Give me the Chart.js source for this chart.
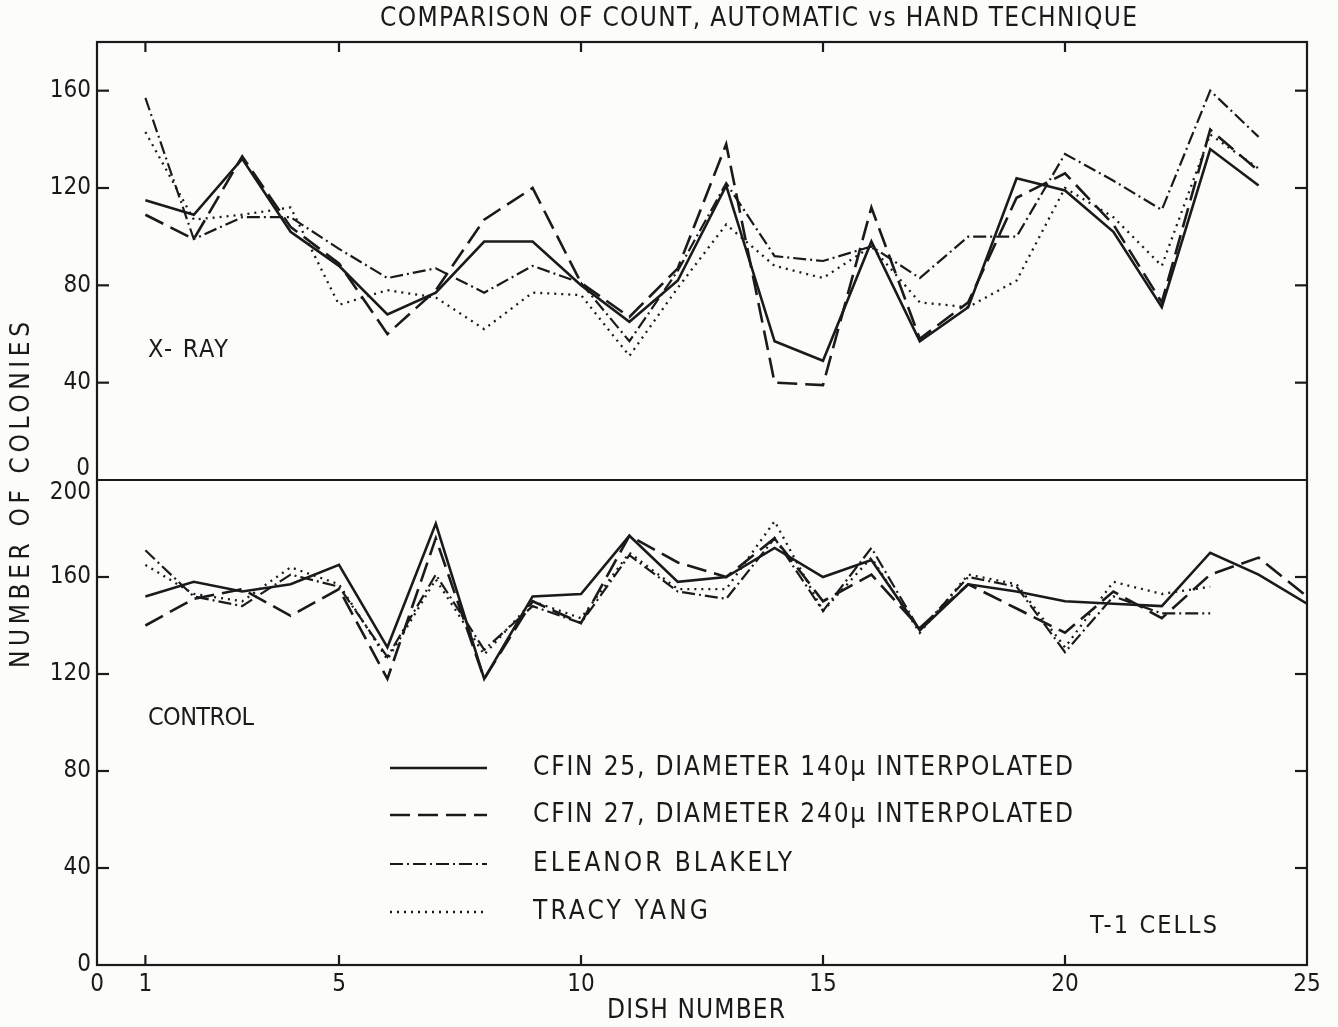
<!DOCTYPE html>
<html>
<head>
<meta charset="utf-8">
<script src="https://cdn.jsdelivr.net/npm/chart.js@4.4.1/dist/chart.umd.min.js"></script>
<style>
  html, body { margin: 0; padding: 0; background: #fcfcfb; }
  canvas { display: block; }
</style>
</head>
<body>
<canvas id="canvas" width="1338" height="1027"></canvas>
<script>
// dish numbers along the x axis
var dishes = [1, 2, 3, 4, 5, 6, 7, 8, 9, 10, 11, 12, 13, 14, 15, 16, 17, 18, 19, 20, 21, 22, 23, 24, 25];
var xTicks = [0, 1, 5, 10, 15, 20, 25];
var xrayTicks = [0, 40, 80, 120, 160];
var controlTicks = [0, 40, 80, 120, 160, 200];

var seriesNames = [
    "CFIN 25, DIAMETER 140\u03bc INTERPOLATED",
    "CFIN 27, DIAMETER 240\u03bc INTERPOLATED",
    "ELEANOR BLAKELY",
    "TRACY YANG"
];

// X-ray panel (dishes 1-24)
var cfin25Xray  = [115, 109, 132, 102, 88, 68, 77, 98, 98, 80, 65, 82, 121, 57, 49, 98, 57, 71, 124, 119, 102, 71, 136, 121];
var cfin27Xray  = [109, 99, 133, 104, 89, 60, 78, 107, 120, 81, 67, 87, 138, 40, 39, 112, 58, 73, 116, 126, 105, 73, 144, 127];
var blakelyXray = [157, 99, 108, 108, 95, 83, 87, 77, 88, 81, 57, 86, 122, 92, 90, 96, 83, 100, 100, 134, 123, 111, 160, 141];
var yangXray    = [143, 107, 109, 112, 72, 78, 75, 62, 77, 76, 51, 79, 105, 88, 83, 96, 73, 71, 82, 120, 108, 88, 142, 128];

// control panel
var cfin25Control  = [152, 158, 154, 157, 165, 131, 182, 118, 152, 153, 177, 158, 160, 172, 160, 167, 138, 157, 154, 150, 149, 148, 170, 161, 149];
var cfin27Control  = [140, 151, 155, 144, 155, 118, 176, 118, 150, 141, 177, 166, 160, 176, 150, 161, 139, 157, 147, 137, 154, 143, 161, 168, 152];
var blakelyControl = [171, 152, 148, 161, 156, 127, 161, 130, 148, 141, 169, 154, 151, 176, 146, 172, 138, 160, 156, 129, 152, 145, 145];
var yangControl    = [165, 153, 150, 164, 157, 126, 159, 128, 150, 143, 170, 155, 155, 183, 146, 168, 137, 161, 157, 131, 158, 153, 156];

var xraySeries = [cfin25Xray, cfin27Xray, blakelyXray, yangXray];
var controlSeries = [cfin25Control, cfin27Control, blakelyControl, yangControl];

var INK = "#1a1a1a";
var FONT = '"DejaVu Sans Condensed", "Liberation Sans Narrow", "DejaVu Sans", sans-serif';

var lineStyles = [
    { borderWidth: 2.6, borderDash: [] },
    { borderWidth: 2.6, borderDash: [20, 8] },
    { borderWidth: 2.2, borderDash: [13, 4, 2, 4] },
    { borderWidth: 2.3, borderDash: [2, 5] }
];

function toPoints(values) {
    return values.map(function(v, i) { return { x: dishes[i], y: v }; });
}

var datasets = [];
seriesNames.forEach(function(name, i) {
    [["yTop", xraySeries[i]], ["yBot", controlSeries[i]]].forEach(function(p) {
        datasets.push({
            label: name,
            data: toPoints(p[1]),
            yAxisID: p[0],
            borderColor: INK,
            borderWidth: lineStyles[i].borderWidth,
            borderDash: lineStyles[i].borderDash,
            pointRadius: 0,
            tension: 0,
            fill: false
        });
    });
});

function fitText(ctx, text, x, y, width) {
    ctx.letterSpacing = "0px";
    var w = ctx.measureText(text).width;
    var sp = text.length > 1 ? (width - w) / (text.length - 1) : 0;
    ctx.letterSpacing = sp + "px";
    ctx.textAlign = "left";
    ctx.fillText(text, x, y);
    ctx.letterSpacing = "0px";
}

function seg(ctx, x1, y1, x2, y2) {
    ctx.beginPath();
    ctx.moveTo(x1, y1);
    ctx.lineTo(x2, y2);
    ctx.stroke();
}

var framePlugin = {
    id: "frame",
    afterDraw: function(chart) {
        var ctx = chart.ctx, a = chart.chartArea;
        var sx = chart.scales.x, st = chart.scales.yTop, sb = chart.scales.yBot;
        ctx.save();
        ctx.strokeStyle = INK;
        ctx.fillStyle = INK;
        ctx.lineWidth = 2.2;
        ctx.setLineDash([]);
        ctx.strokeRect(a.left, a.top, a.right - a.left, a.bottom - a.top);
        var mid = st.getPixelForValue(0);
        seg(ctx, a.left, mid, a.right, mid);

        xTicks.forEach(function(v) {
            if (v === 0 || v === 25) return;
            var px = sx.getPixelForValue(v);
            seg(ctx, px, a.top, px, a.top + 10);
            seg(ctx, px, a.bottom, px, a.bottom - 10);
        });
        xrayTicks.forEach(function(v) {
            if (v === 0) return;
            var py = st.getPixelForValue(v);
            seg(ctx, a.left, py, a.left + 12, py);
            seg(ctx, a.right, py, a.right - 12, py);
        });
        controlTicks.forEach(function(v) {
            if (v === 0 || v === 200) return;
            var py = sb.getPixelForValue(v);
            seg(ctx, a.left, py, a.left + 12, py);
            seg(ctx, a.right, py, a.right - 12, py);
        });

        ctx.textBaseline = "middle";
        // tick labels at the panel seam
        ctx.font = "24px " + FONT;
        ctx.textAlign = "right";
        ctx.fillText("0", a.left - 7, mid - 11);
        ctx.fillText("200", a.left - 6, mid + 13);

        ctx.font = "26px " + FONT;
        fitText(ctx, "COMPARISON OF COUNT, AUTOMATIC vs HAND TECHNIQUE", 380, 19, 757);
        fitText(ctx, "DISH NUMBER", 607, 1011, 178);

        ctx.save();
        ctx.translate(22, 495);
        ctx.rotate(-Math.PI / 2);
        fitText(ctx, "NUMBER OF COLONIES", -173, 0, 346);
        ctx.restore();

        ctx.font = "25px " + FONT;
        fitText(ctx, "X- RAY", 148, 350, 80);
        fitText(ctx, "CONTROL", 148, 718, 106);
        fitText(ctx, "T-1 CELLS", 1090, 926, 127);

        // legend
        var rows = [768, 815, 864, 912];
        var widths = [540, 540, 259, 175];
        ctx.font = "26px " + FONT;
        seriesNames.forEach(function(name, i) {
            ctx.lineWidth = lineStyles[i].borderWidth;
            ctx.setLineDash(lineStyles[i].borderDash);
            seg(ctx, 390, rows[i], 487, rows[i]);
            ctx.setLineDash([]);
            fitText(ctx, name, 533, rows[i], widths[i]);
        });
        ctx.restore();
    }
};

function tickFont() {
    return { family: FONT, size: 24 };
}

window.onload = function() {
    var ctx = document.getElementById("canvas").getContext("2d");
    new Chart(ctx, {
        type: "line",
        data: { datasets: datasets },
        plugins: [framePlugin],
        options: {
            responsive: false,
            animation: false,
            layout: { padding: { left: 0, right: 31, top: 42, bottom: 0 } },
            plugins: {
                legend: { display: false },
                title: { display: false },
                tooltip: { enabled: false }
            },
            scales: {
                x: {
                    type: "linear",
                    min: 0,
                    max: 25,
                    afterBuildTicks: function(s) { s.ticks = xTicks.map(function(v) { return { value: v }; }); },
                    afterFit: function(s) { s.height = 62; },
                    grid: { display: false, drawTicks: false },
                    border: { display: false },
                    ticks: { color: INK, font: tickFont(), padding: 5, autoSkip: false, maxRotation: 0 }
                },
                yTop: {
                    type: "linear",
                    position: "left",
                    stack: "panels",
                    stackWeight: 438,
                    weight: 1,
                    min: 0,
                    max: 180,
                    afterBuildTicks: function(s) { s.ticks = xrayTicks.map(function(v) { return { value: v }; }); },
                    afterFit: function(s) { s.width = 97; },
                    grid: { display: false, drawTicks: false },
                    border: { display: false },
                    ticks: {
                        color: INK, font: tickFont(), padding: 6,
                        callback: function(v) { return v === 0 ? "" : v; }
                    }
                },
                yBot: {
                    type: "linear",
                    position: "left",
                    stack: "panels",
                    stackWeight: 485,
                    weight: 0,
                    min: 0,
                    max: 200,
                    afterBuildTicks: function(s) { s.ticks = controlTicks.map(function(v) { return { value: v }; }); },
                    afterFit: function(s) { s.width = 97; },
                    grid: { display: false, drawTicks: false },
                    border: { display: false },
                    ticks: {
                        color: INK, font: tickFont(), padding: 6,
                        callback: function(v) { return v === 200 ? "" : v; }
                    }
                }
            }
        }
    });
};
</script>
</body>
</html>
